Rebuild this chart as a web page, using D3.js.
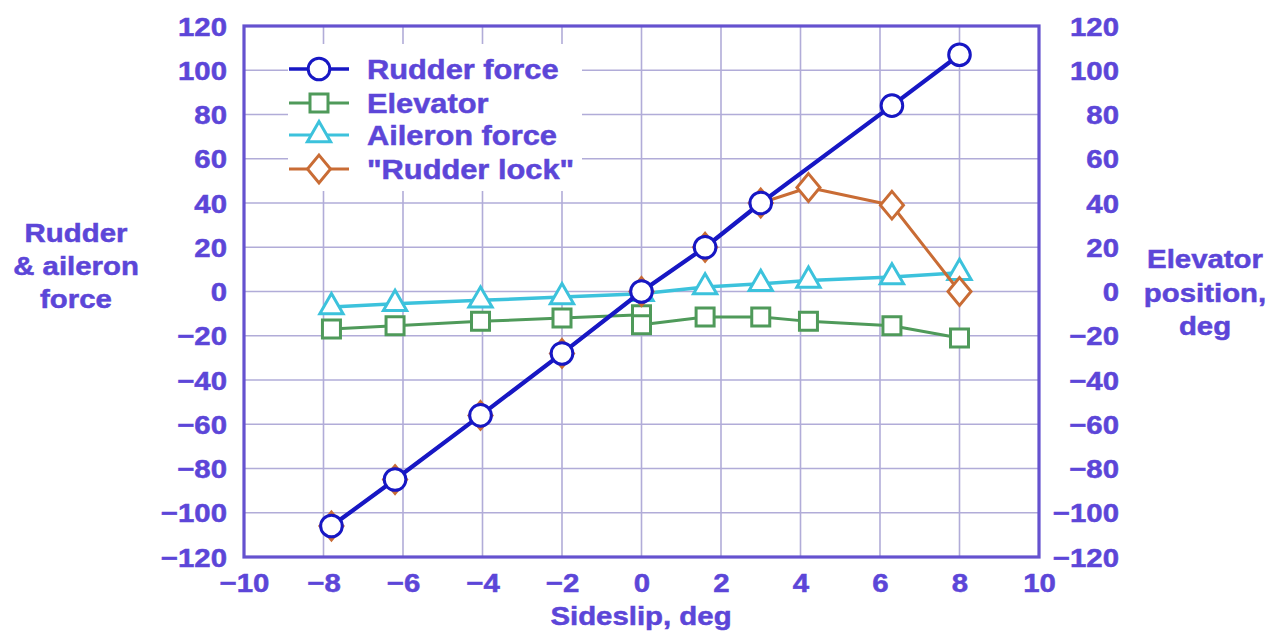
<!DOCTYPE html>
<html>
<head>
<meta charset="utf-8">
<script src="https://cdn.jsdelivr.net/npm/d3@7"></script>
<style>
  html, body { margin: 0; padding: 0; background: #ffffff; }
  svg { display: block; }
  text { font-family: "Liberation Sans", Arial, Helvetica, sans-serif; font-weight: bold; }
</style>
</head>
<body>
<svg id="chart" width="1277" height="635"></svg>
<script>
// Sideslip angles (deg) at which each quantity was recorded
const sideslip = [-7.8, -6.2, -4.05, -2, 0, 1.6, 3, 6.3, 8];
const rudderForce = [-106, -85, -56, -28, 0, 20, 40, 84, 107];

const elevatorSideslip = [-7.8, -6.2, -4.05, -2, 0, 0, 1.6, 3, 4.2, 6.3, 8];
const elevatorPosition = [-17, -15.5, -13.5, -12, -10.5, -15, -11.5, -11.5, -13.5, -15.5, -21];

const aileronSideslip = [-7.8, -6.2, -4.05, -2, 0, 1.6, 3, 4.2, 6.3, 8];
const aileronForce = [-7, -5.5, -4, -2.5, -1, 2, 3.5, 5, 6.5, 8.5];

const lockSideslip = [-7.8, -6.2, -4.05, -2, 0, 1.6, 3, 4.2, 6.3, 8];
const rudderLock = [-106, -85, -56, -28, 0, 20, 40, 47, 39, 0];

const xTicks = [-10, -8, -6, -4, -2, 0, 2, 4, 6, 8, 10];
const yTicks = [-120, -100, -80, -60, -40, -20, 0, 20, 40, 60, 80, 100, 120];

const seriesNames = ["Rudder force", "Elevator", "Aileron force", "\"Rudder lock\""];

const textColor = "#5c46d8";
const frameColor = "#6552cf";
const gridColor = "#b1acd8";
const colors = {
  rudder: "#1717c4",
  elevator: "#4f9a5a",
  aileron: "#3cc2dc",
  lock: "#c96c35"
};

const svg = d3.select("#chart");
const plot = { left: 244, right: 1039, top: 26, bottom: 557 };

const x = d3.scaleLinear().domain([-10, 10]).range([plot.left, plot.right]);
const y = d3.scaleLinear().domain([-120, 120]).range([plot.bottom, plot.top]);
const yRight = y.copy();

const sx = 1.13; // wide lettering

// grid
const grid = svg.append("g");
grid.selectAll("line.v").data(xTicks.slice(1, -1)).join("line")
  .attr("x1", d => x(d)).attr("x2", d => x(d))
  .attr("y1", plot.top).attr("y2", plot.bottom)
  .attr("stroke", gridColor).attr("stroke-width", 1.6);
grid.selectAll("line.h").data(yTicks.slice(1, -1)).join("line")
  .attr("x1", plot.left).attr("x2", plot.right)
  .attr("y1", d => y(d)).attr("y2", d => y(d))
  .attr("stroke", gridColor).attr("stroke-width", 1.6);

// axes (labels only; the frame is drawn separately)
function styleAxis(g, anchor, dx, dy) {
  g.select(".domain").remove();
  g.selectAll(".tick line").remove();
  g.selectAll(".tick text")
    .attr("fill", textColor)
    .attr("stroke", textColor)
    .attr("stroke-width", 0.5)
    .attr("font-size", 26)
    .attr("text-anchor", anchor)
    .attr("x", dx / sx)
    .attr("dy", null)
    .attr("y", dy)
    .attr("transform", `scale(${sx},1)`);
}
const fmt = d3.format("d");
svg.append("g").attr("transform", `translate(${plot.left},0)`)
  .call(d3.axisLeft(y).tickValues(yTicks).tickFormat(fmt))
  .call(g => styleAxis(g, "end", -17, 9));
svg.append("g").attr("transform", `translate(${plot.right},0)`)
  .call(d3.axisRight(yRight).tickValues(yTicks).tickFormat(fmt))
  .call(g => styleAxis(g, "end", 80, 9));
svg.append("g").attr("transform", `translate(0,${plot.bottom})`)
  .call(d3.axisBottom(x).tickValues(xTicks).tickFormat(fmt))
  .call(g => styleAxis(g, "middle", 0, 35));

// frame
svg.append("rect")
  .attr("x", plot.left).attr("y", plot.top)
  .attr("width", plot.right - plot.left).attr("height", plot.bottom - plot.top)
  .attr("fill", "none").attr("stroke", frameColor).attr("stroke-width", 3.2);

// axis titles
function multiline(lines, cx, baselines, size) {
  lines.forEach((t, i) => {
    svg.append("text")
      .attr("transform", `translate(${cx},${baselines[i]}) scale(${sx},1)`)
      .attr("text-anchor", "middle")
      .attr("font-size", size)
      .attr("fill", textColor)
      .attr("stroke", textColor)
      .attr("stroke-width", 0.5)
      .text(t);
  });
}
multiline(["Rudder", "& aileron", "force"], 76, [242, 275, 308], 26);
multiline(["Elevator", "position,", "deg"], 1205, [268, 302, 335], 26);
multiline(["Sideslip, deg"], 641, [625], 26);

// symbol generators; the diamond is a little taller than it is wide
const circle = d3.symbol().type(d3.symbolCircle).size(Math.PI * 10.8 * 10.8);
const square = d3.symbol().type(d3.symbolSquare).size(18 * 18);
const triangle = d3.symbol().type(d3.symbolTriangle).size(235);
const diamond = d3.symbol().type(d3.symbolDiamond2).size(420);
const diamondShape = " scale(0.9,1.08)";

// legend
const legendRows = [
  { name: seriesNames[0], color: colors.rudder, sym: circle, w: 3.5, shape: "" },
  { name: seriesNames[1], color: colors.elevator, sym: square, w: 3, shape: "" },
  { name: seriesNames[2], color: colors.aileron, sym: triangle, w: 3, shape: "" },
  { name: seriesNames[3], color: colors.lock, sym: diamond, w: 3, shape: diamondShape }
];
const legendY = [69, 103, 135, 169];
svg.append("rect").attr("x", 288).attr("y", 44).attr("width", 294).attr("height", 147).attr("fill", "#ffffff");
const legend = svg.append("g");
legendRows.forEach((r, i) => {
  const g = legend.append("g").attr("transform", `translate(0,${legendY[i]})`);
  g.append("line").attr("x1", 289).attr("x2", 349).attr("y1", 0).attr("y2", 0)
    .attr("stroke", r.color).attr("stroke-width", r.w);
  g.append("path").attr("d", r.sym()).attr("transform", "translate(319,0)" + r.shape)
    .attr("fill", "#ffffff").attr("stroke", r.color).attr("stroke-width", 3);
  g.append("text")
    .attr("transform", `translate(367,10) scale(1.1,1)`)
    .attr("font-size", 28)
    .attr("fill", textColor)
    .attr("stroke", textColor)
    .attr("stroke-width", 0.5)
    .text(r.name);
});

// series
function drawSeries(xs, ys, color, sym, lw, shape) {
  const pts = xs.map((v, i) => [x(v), y(ys[i])]);
  svg.append("path")
    .attr("d", d3.line()(pts))
    .attr("fill", "none").attr("stroke", color).attr("stroke-width", lw)
    .attr("stroke-linejoin", "round");
  svg.append("g").selectAll("path").data(pts).join("path")
    .attr("d", sym())
    .attr("transform", d => `translate(${d[0]},${d[1]})` + (shape || ""))
    .attr("fill", "#ffffff").attr("stroke", color).attr("stroke-width", 3);
}
drawSeries(elevatorSideslip, elevatorPosition, colors.elevator, square, 3);
drawSeries(aileronSideslip, aileronForce, colors.aileron, triangle, 3.5);
drawSeries(lockSideslip, rudderLock, colors.lock, diamond, 3, diamondShape);
drawSeries(sideslip, rudderForce, colors.rudder, circle, 4.2);
</script>
</body>
</html>
